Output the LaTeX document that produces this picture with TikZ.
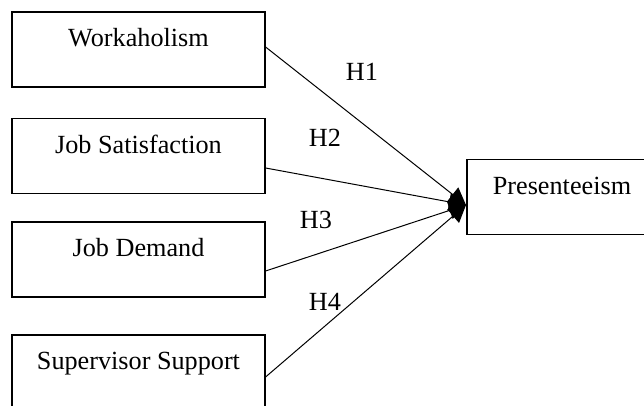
\documentclass[tikz,border=0pt]{standalone}
\usepackage{fontspec}
\setmainfont{Liberation Serif}
\usetikzlibrary{arrows.meta,calc,positioning}

\tikzset{
  varbox/.style={draw, line width=0.6pt, inner sep=0pt, minimum width=126.5pt,
    text height=17.5pt, text depth=20pt, font=\fontsize{13.1}{15}\selectfont},
  hyparrow/.style={line width=0.5pt, -{Triangle[length=8.5pt,width=9pt]}},
  hyplabel/.style={font=\fontsize{13.1}{15}\selectfont, inner sep=0pt}
}

\begin{document}
\begin{tikzpicture}[x=0.5pt, y=-0.5pt]
    % page frame, same size as the reference
    \clip (0,0) rectangle (644,406);

    % the four predictors
    \node[varbox] (work) at (138.5,49.5) {Workaholism};
    \node[varbox] (sat) at (138.5,156) {Job Satisfaction};
    \node[varbox] (dem) at (138.5,259.5) {Job Demand};
    \node[varbox] (sup) at (138.5,372.5) {Supervisor Support};

    % outcome
    \node[varbox, minimum width=95pt] (pres) at (562,197) {Presenteeism};
    \coordinate (hub) at (466,205);

    \draw[hyparrow] ([yshift=1.25pt]work.east) -- (hub);
    \draw[hyparrow] ([yshift=-6pt]sat.east) -- (hub);
    \draw[hyparrow] ([yshift=-5.75pt]dem.east) -- (hub);
    \draw[hyparrow] ([yshift=-2.25pt]sup.east) -- (hub);

    \node[hyplabel] (h1) at (362,72) {H1};
    \node[hyplabel] (h2) at (325,138) {H2};
    \node[hyplabel] (h3) at (316,220) {H3};
    \node[hyplabel] (h4) at (325,302) {H4};
\end{tikzpicture}
\end{document}
